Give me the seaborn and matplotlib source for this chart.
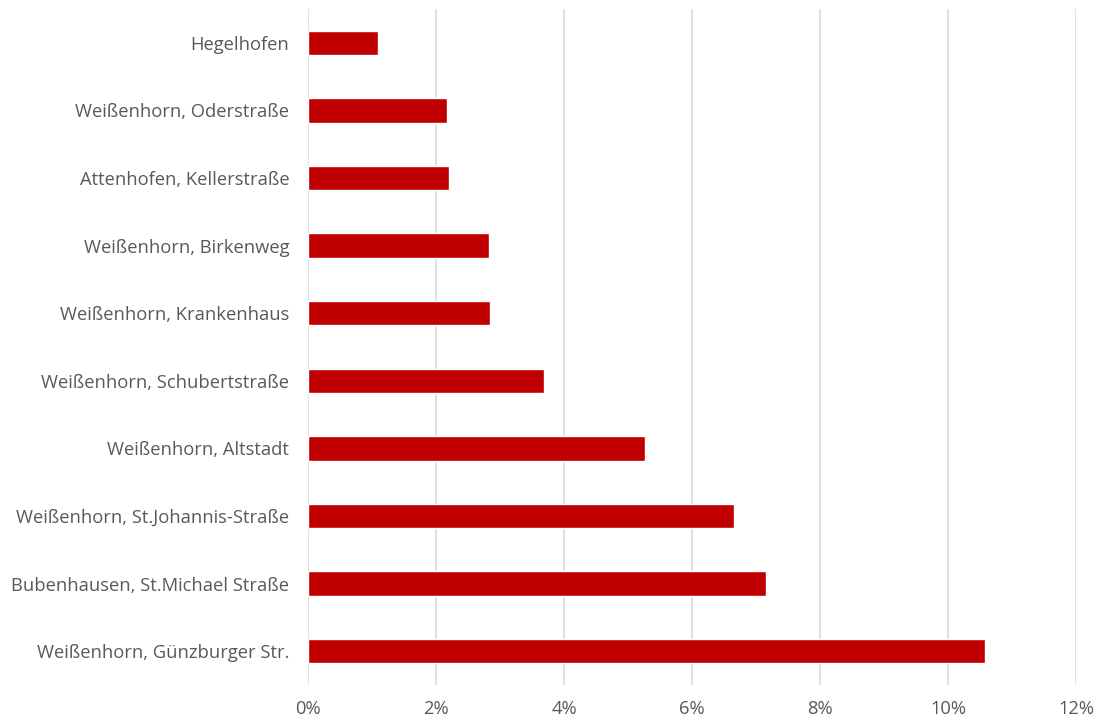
import pandas as pd
import seaborn as sns
import matplotlib.pyplot as plt
from matplotlib.ticker import FuncFormatter

# Data (share in %)
stations = [
    "Hegelhofen",
    "Weißenhorn, Oderstraße",
    "Attenhofen, Kellerstraße",
    "Weißenhorn, Birkenweg",
    "Weißenhorn, Krankenhaus",
    "Weißenhorn, Schubertstraße",
    "Weißenhorn, Altstadt",
    "Weißenhorn, St.Johannis-Straße",
    "Bubenhausen, St.Michael Straße",
    "Weißenhorn, Günzburger Str.",
]
shares = [1.10, 2.17, 2.21, 2.82, 2.84, 3.69, 5.26, 6.65, 7.15, 10.58]
x_ticks = [0, 2, 4, 6, 8, 10, 12]

df = pd.DataFrame({"station": stations, "share": shares})

sns.set_theme(style="white")
plt.rcParams["font.family"] = ["Open Sans", "DejaVu Sans"]

fig = plt.figure(figsize=(10.97, 7.23), dpi=100)
ax = fig.add_axes([0.2808, 0.0526, 0.7001, 0.935])

sns.barplot(
    data=df,
    x="share",
    y="station",
    orient="h",
    color="#C00000",
    saturation=1,
    width=0.36,
    ax=ax,
)

ax.set_xlim(0, 12)
ax.set_xticks(x_ticks)
ax.xaxis.set_major_formatter(FuncFormatter(lambda v, _: f"{v:.0f}%"))
ax.set_xlabel("")
ax.set_ylabel("")

# Vertical grid lines only
ax.grid(True, axis="x", color="#D9D9D9", linewidth=1.1)
ax.grid(False, axis="y")
ax.set_axisbelow(True)
for s in ax.spines.values():
    s.set_visible(False)

ax.tick_params(axis="both", length=0, colors="#595959", labelsize=13.2)
ax.tick_params(axis="y", pad=13.5)
ax.tick_params(axis="x", pad=11)

fig.savefig("out.png", dpi=100)
